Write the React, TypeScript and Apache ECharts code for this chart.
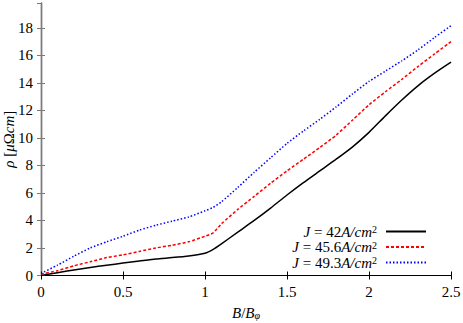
import React, { useEffect, useRef } from "react";
import * as echarts from "echarts";

const B = [0, 0.1, 0.2, 0.3, 0.4, 0.5, 0.6, 0.7, 0.8, 0.9, 1.0, 1.05, 1.1, 1.2, 1.3, 1.4, 1.5, 1.6, 1.7, 1.8, 1.9, 2.0, 2.1, 2.2, 2.3, 2.4, 2.5];
const rhoJ42 = [0, 0.2, 0.4, 0.58, 0.75, 0.9, 1.05, 1.2, 1.3, 1.42, 1.62, 1.9, 2.3, 3.15, 4.0, 4.9, 5.85, 6.75, 7.6, 8.45, 9.35, 10.4, 11.6, 12.75, 13.8, 14.7, 15.5];
const rhoJ456 = [0.1, 0.35, 0.7, 1.0, 1.3, 1.5, 1.75, 2.0, 2.2, 2.45, 2.85, 3.1, 3.75, 4.8, 5.75, 6.7, 7.6, 8.45, 9.3, 10.2, 11.3, 12.4, 13.35, 14.25, 15.2, 16.1, 17.0];
const rhoJ493 = [0.15, 0.75, 1.4, 2.0, 2.45, 2.85, 3.3, 3.65, 3.95, 4.25, 4.7, 4.95, 5.35, 6.4, 7.5, 8.55, 9.6, 10.5, 11.35, 12.25, 13.2, 14.1, 14.85, 15.6, 16.4, 17.3, 18.15];
const seriesNames = ["J = 42A/cm2", "J = 45.6A/cm2", "J = 49.3A/cm2"];
const legendLabels: Record<string, string> = {
  "J = 42A/cm2": "{i|J} = 42{i|A/cm}{sup|2}",
  "J = 45.6A/cm2": "{i|J} = 45.6{i|A/cm}{sup|2}",
  "J = 49.3A/cm2": "{i|J} = 49.3{i|A/cm}{sup|2}",
};

const FONT = "Liberation Serif, DejaVu Serif, serif";

export default function App() {
  const ref = useRef<HTMLDivElement>(null);
  useEffect(() => {
    if (!ref.current) return;
    const chart = echarts.init(ref.current, undefined, { renderer: "svg" });
    const toPairs = (vals: number[]) => B.map((b, i) => [b, vals[i]]);
    const gray = "#7a7a7a";
    chart.setOption({
      animation: false,
      backgroundColor: "#fff",
      textStyle: { fontFamily: FONT },
      grid: { left: 41, right: 12, top: 3, bottom: 47.5, containLabel: false, outerBoundsMode: "none" },
      legend: {
        right: 31,
        top: 219,
        orient: "vertical",
        align: "right",
        itemWidth: 40,
        itemHeight: 14,
        itemGap: -1,
        data: seriesNames,
        formatter: (n: string) => legendLabels[n],
        itemStyle: { color: "transparent", borderWidth: 0, opacity: 0 },
        textStyle: {
          fontFamily: FONT,
          fontSize: 15,
          lineHeight: 14,
          color: "#000",
          padding: [0, 4, 0, 0],
          rich: {
            i: { fontFamily: FONT, fontStyle: "italic", fontSize: 15, lineHeight: 14, color: "#000" },
            sup: { fontFamily: FONT, fontSize: 10, lineHeight: 14, verticalAlign: "top", padding: [0, 0, 6, 0], color: "#000" },
          },
        },
      },
      xAxis: [
        {
          type: "value",
          min: 0,
          max: 2.5,
          interval: 0.5,
          position: "bottom",
          name: "{i|B}/{i|B}{sub|φ}",
          nameLocation: "middle",
          nameGap: 29,
          nameMoveOverlap: false,
          nameTextStyle: {
            fontFamily: FONT,
            fontSize: 15,
            color: "#000",
            rich: {
              i: { fontFamily: FONT, fontStyle: "italic", fontSize: 15, color: "#000" },
              sub: { fontFamily: FONT, fontStyle: "italic", fontSize: 10, verticalAlign: "bottom", padding: [6, 0, 0, 0], color: "#000" },
            },
          },
          axisLine: { lineStyle: { color: "#000", width: 1.2 } },
          axisTick: { inside: true, length: 4, lineStyle: { color: "#000" } },
          axisLabel: { fontFamily: FONT, fontSize: 15, color: "#000", margin: 9 },
          splitLine: { show: false },
        },
        {
          type: "value",
          min: 0,
          max: 2.5,
          interval: 0.5,
          position: "top",
          axisLine: { lineStyle: { color: "#000", width: 1.2 } },
          axisTick: { inside: true, length: 4, lineStyle: { color: "#000" } },
          axisLabel: { show: false },
          splitLine: { show: false },
        },
      ],
      yAxis: [
        {
          type: "value",
          min: 0,
          max: 19.8,
          interval: 2,
          position: "left",
          name: "{i|ρ} [{i|μ}Ω{i|cm}]",
          nameLocation: "middle",
          nameGap: 25,
          nameRotate: 90,
          nameMoveOverlap: false,
          nameTextStyle: {
            fontFamily: FONT,
            fontSize: 15,
            color: "#000",
            rich: {
              i: { fontFamily: FONT, fontStyle: "italic", fontSize: 15, color: "#000" },
            },
          },
          axisLine: { lineStyle: { color: gray, width: 1.4 } },
          axisTick: { inside: true, length: 4, lineStyle: { color: gray } },
          axisLabel: { fontFamily: FONT, fontSize: 15, color: "#000", margin: 8, showMaxLabel: false },
          splitLine: { show: false },
        },
        {
          type: "value",
          min: 0,
          max: 19.8,
          interval: 2,
          position: "right",
          axisLine: { lineStyle: { color: gray, width: 1.4 } },
          axisTick: { inside: true, length: 4, lineStyle: { color: gray } },
          axisLabel: { show: false },
          splitLine: { show: false },
        },
      ],
      series: [
        {
          name: seriesNames[0],
          type: "line",
          data: toPairs(rhoJ42),
          symbol: "none",
          smooth: 0.2,
          itemStyle: { color: "#000" },
          lineStyle: { color: "#000", width: 1.5, type: "solid" },
        },
        {
          name: seriesNames[1],
          type: "line",
          data: toPairs(rhoJ456),
          symbol: "none",
          smooth: 0.2,
          itemStyle: { color: "#ff0000" },
          lineStyle: { color: "#ff0000", width: 1.5, type: [3, 2] },
        },
        {
          name: seriesNames[2],
          type: "line",
          data: toPairs(rhoJ493),
          symbol: "none",
          smooth: 0.2,
          itemStyle: { color: "#0000ff" },
          lineStyle: { color: "#0000ff", width: 1.5, type: [1.5, 2] },
        },
      ],
    });
    return () => chart.dispose();
  }, []);
  return <div ref={ref} style={{ width: 463, height: 323, position: "absolute", left: 0, top: 0 }} />;
}
